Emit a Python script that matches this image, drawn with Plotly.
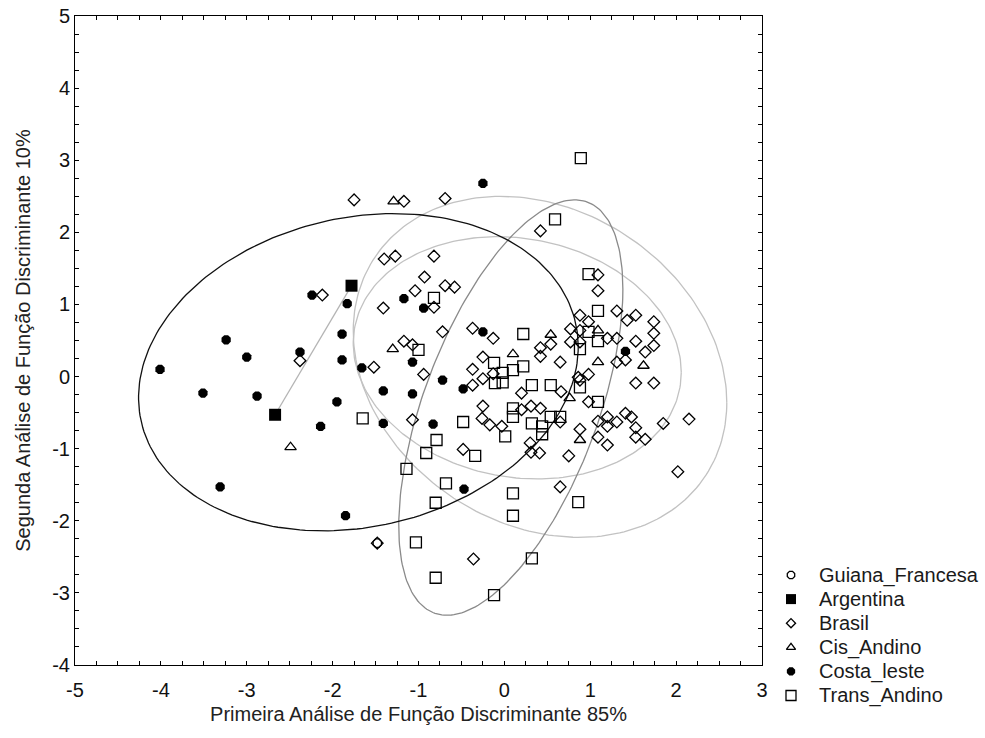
import numpy as np
import plotly.graph_objects as go

# ---------------- data ----------------
gf_x = [-1.48]
gf_y = [-2.31]

arg_x = [-1.78, -2.67]
arg_y = [1.26, -0.53]

bra_x = [-1.75, -1.17, -0.69, -1.40, -1.27, -0.82, -0.93, -1.04, -0.69, -0.58, -2.12, -1.41, -0.82,
         -0.72, -1.17, -1.07, -2.38, -1.52, -0.94, -1.07, -0.37, -0.13, -0.25, -0.37, -0.25, -0.13,
         -0.37, -0.25, -0.26, -0.17, -0.48, -1.48, 0.42, 1.09, 1.09, 1.31, 1.43, 1.53, 1.74, 1.74,
         1.74, 1.53, 1.64, 1.41, 1.31, 1.53, 1.74, 1.85, 2.15, 0.42, 0.42, 0.54, 0.65, 0.77, 0.88,
         0.98, 0.77, 0.88, 0.88, 1.20, 1.31, 0.98, 0.88, 0.66, 0.20, 0.31, 0.20, 0.42, -0.03, 0.65,
         0.98, 1.09, 1.20, 1.31, 1.20, 1.41, 1.48, 1.53, 1.53, 1.64, 1.09, 0.88, 1.20, 0.30, 0.31,
         0.41, 0.75, 0.65, -0.36, 2.02, 0.86]
bra_y = [2.45, 2.43, 2.47, 1.63, 1.67, 1.67, 1.38, 1.19, 1.26, 1.24, 1.13, 0.95, 0.96,
         0.62, 0.49, 0.44, 0.22, 0.13, 0.03, -0.60, 0.67, 0.53, 0.27, 0.10, -0.03, 0.04,
         -0.12, -0.41, -0.58, -0.67, -1.01, -2.31, 2.02, 1.41, 1.19, 0.91, 0.78, 0.85, 0.76, 0.60,
         0.43, 0.49, 0.34, 0.23, 0.20, -0.09, -0.09, -0.65, -0.59, 0.40, 0.28, 0.45, 0.20, 0.66, 0.85,
         0.76, 0.48, 0.64, 0.48, 0.53, 0.53, 0.03, -0.05, -0.21, -0.23, -0.41, -0.46, -0.44, -0.69, -0.63,
         -0.35, -0.62, -0.56, -0.63, -0.69, -0.51, -0.56, -0.71, -0.84, -0.87, -0.84, -0.73, -0.95, -0.92, -1.05,
         -1.06, -1.10, -1.53, -2.53, -1.32, -0.01]

cis_x = [-1.29, -1.30, -2.49, 0.54, 0.10, 1.09, 1.62, 0.76, 0.88, 1.09]
cis_y = [2.43, 0.38, -0.98, 0.58, 0.31, 0.20, 0.15, -0.30, -0.88, 0.64]

cl_x = [-4.01, -3.51, -3.24, -3.00, -2.88, -3.31, -2.24, -1.83, -1.89, -2.38, -1.89, -1.66, -1.95, -2.14,
        -1.41, -1.07, -1.41, -0.83, -0.72, -1.17, -0.94, -1.07, -0.25, -0.25, -0.48, -0.47, -1.85, 1.41]
cl_y = [0.10, -0.23, 0.51, 0.27, -0.27, -1.53, 1.13, 1.01, 0.59, 0.34, 0.23, 0.12, -0.35, -0.69,
        -0.20, -0.24, -0.65, -0.66, -0.05, 1.08, 0.95, 0.20, 2.68, 0.62, -0.17, -1.56, -1.93, 0.35]

ta_x = [0.89, 0.59, 0.98, 1.09, 0.98, 1.09, 0.88, 0.22, -0.12, 0.10, 0.22, -0.02, -0.11, -0.02, 0.32,
        0.54, 0.88, 1.09, 0.10, 0.10, -0.48, 0.01, 0.32, 0.44, 0.44, 0.54, 0.65, -0.79, -0.82, -1.00,
        -1.65, -0.91, -0.34, -1.14, -0.68, -0.80, -1.03, 0.10, 0.10, 0.86, -0.80, 0.32, -0.12]
ta_y = [3.03, 2.18, 1.42, 0.91, 0.62, 0.49, 0.38, 0.59, 0.19, 0.09, 0.14, 0.05, -0.09, -0.08, -0.12,
        -0.12, -0.15, -0.35, -0.44, -0.56, -0.63, -0.83, -0.65, -0.69, -0.80, -0.56, -0.56, -0.88, 1.09, 0.37,
        -0.58, -1.06, -1.10, -1.28, -1.48, -1.75, -2.30, -1.62, -1.93, -1.74, -2.79, -2.52, -3.03]

# group ellipses: centre, half-width, half-height, correlation
ell_groups = ["Brasil", "Guiana_Francesa", "Trans_Andino", "Costa_leste"]
ell_cx = [0.415, 0.15, 0.075, -1.70]
ell_cy = [0.135, 0.26, -0.43, 0.06]
ell_hw = [2.175, 1.91, 1.305, 2.56]
ell_hh = [2.365, 1.68, 2.88, 2.20]
ell_rho = [-0.21, -0.12, 0.57, 0.16]

x_ticks = [-5, -4, -3, -2, -1, 0, 1, 2, 3]
y_ticks = [-4, -3, -2, -1, 0, 1, 2, 3, 4, 5]

FONT = "Liberation Sans, Arial, sans-serif"
ELL_COLORS = {"Brasil": "#c2c2c2", "Guiana_Francesa": "#c2c2c2",
              "Trans_Andino": "#8a8a8a", "Costa_leste": "#111111"}

# page geometry (pixels)
W, H = 985, 738
ML, MR, MT, MB = 75, 5, 16, 30          # paper area used by the two overlapping subplots
PLOT_RIGHT, PLOT_BOTTOM = 762, 665      # main plotting frame


def ellipse_xy(cx, cy, hw, hh, rho, n=240):
    m = np.array([[hw * hw, rho * hw * hh], [rho * hw * hh, hh * hh]])
    L = np.linalg.cholesky(m)
    t = np.linspace(0, 2 * np.pi, n)
    pts = L @ np.vstack([np.cos(t), np.sin(t)])
    return pts[0] + cx, pts[1] + cy


fig = go.Figure()

for g, cx, cy, hw, hh, rho in zip(ell_groups, ell_cx, ell_cy, ell_hw, ell_hh, ell_rho):
    ex, ey = ellipse_xy(cx, cy, hw, hh, rho)
    fig.add_trace(go.Scatter(x=ex, y=ey, mode="lines", line=dict(color=ELL_COLORS[g], width=1.3),
                             showlegend=False, hoverinfo="skip"))
fig.add_trace(go.Scatter(x=arg_x, y=arg_y, mode="lines", line=dict(color="#b4b4b4", width=1.3),
                         showlegend=False, hoverinfo="skip"))

mk_line = dict(color="black", width=1.3)
groups = [
    ("Guiana_Francesa", gf_x, gf_y, dict(symbol="octagon-open", size=9, color="black", line=mk_line)),
    ("Argentina", arg_x, arg_y, dict(symbol="square", size=12, color="black", line=dict(width=0))),
    ("Brasil", bra_x, bra_y, dict(symbol="diamond-open", size=9, color="black", line=mk_line)),
    ("Cis_Andino", cis_x, cis_y, dict(symbol="triangle-up-open", size=10, color="black", line=mk_line)),
    ("Costa_leste", cl_x, cl_y, dict(symbol="octagon", size=10, color="black", line=dict(width=0))),
    ("Trans_Andino", ta_x, ta_y, dict(symbol="square-open", size=11, color="black", line=mk_line)),
]
for name, xs, ys, mk in groups:
    fig.add_trace(go.Scatter(x=xs, y=ys, mode="markers", name=name, marker=mk, showlegend=False))

# ---- legend drawn on a second (transparent) subplot measured in pixels ----
LEG_X_MARK, LEG_X_TEXT, LEG_Y0, LEG_DY = 791, 817, 575, 24.1
leg_sizes = {"Guiana_Francesa": 8, "Argentina": 10, "Brasil": 7, "Cis_Andino": 8,
             "Costa_leste": 9, "Trans_Andino": 10}
for i, (name, xs, ys, mk) in enumerate(groups):
    m = dict(mk)
    m["size"] = leg_sizes[name]
    yy = LEG_Y0 + i * LEG_DY
    fig.add_trace(go.Scatter(x=[LEG_X_MARK], y=[yy], mode="markers", marker=m, xaxis="x2", yaxis="y2",
                             cliponaxis=False, showlegend=False, hoverinfo="skip"))
    fig.add_annotation(x=LEG_X_TEXT, y=yy, xref="x2", yref="y2", text=name, showarrow=False,
                       xanchor="left", yanchor="middle",
                       font=dict(family=FONT, size=20, color="#1a1a1a"))

axis_common = dict(
    showgrid=False, zeroline=False, showline=True, linecolor="black", linewidth=1,
    mirror="allticks", ticks="inside", ticklen=4, tickwidth=1, tickcolor="black",
    minor=dict(ticks="inside", ticklen=4, tickwidth=1, tickcolor="black", dtick=0.25, showgrid=False),
    tickfont=dict(family=FONT, size=20, color="#111111"),
    title_font=dict(family=FONT, size=20, color="#222222"),
    automargin=False,
)

paper_w = W - ML - MR
paper_h = H - MT - MB

fig.update_layout(
    width=W, height=H,
    margin=dict(l=ML, r=MR, t=MT, b=MB),
    paper_bgcolor="white", plot_bgcolor="rgba(0,0,0,0)",
    font=dict(family=FONT, color="black"),
    showlegend=False,
    xaxis=dict(range=[-5, 3], domain=[0, (PLOT_RIGHT - ML) / paper_w],
               tickvals=x_ticks, ticktext=[str(v) for v in x_ticks], ticklabelstandoff=7,
               title=dict(text="Primeira Análise de Função Discriminante 85%", standoff=6), **axis_common),
    yaxis=dict(range=[-4, 5], domain=[(H - MB - PLOT_BOTTOM) / paper_h, 1],
               tickvals=y_ticks, ticktext=[str(v) for v in y_ticks],
               title=dict(text="Segunda Análise de Função Discriminante 10%", standoff=16), **axis_common),
    xaxis2=dict(range=[ML, W - MR], domain=[0, 1], anchor="y2", visible=False, fixedrange=True),
    yaxis2=dict(range=[H - MB, MT], domain=[0, 1], anchor="x2", visible=False, fixedrange=True),
)

fig.write_html("out.html")
